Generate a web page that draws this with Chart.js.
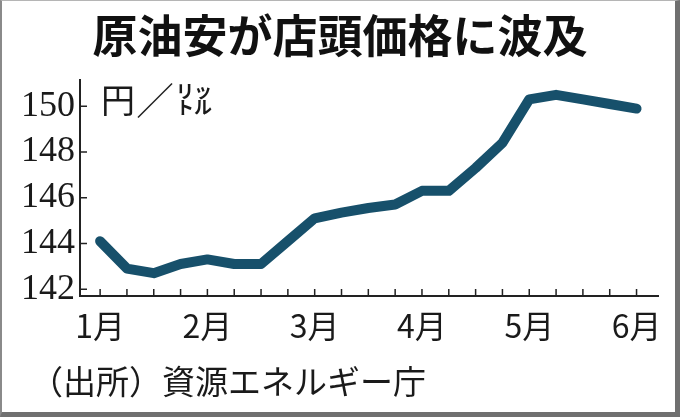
<!DOCTYPE html>
<html lang="ja">
<head>
<meta charset="utf-8">
<script src="https://cdn.jsdelivr.net/npm/chart.js@4.4.1/dist/chart.umd.min.js"></script>
<style>
  html, body { margin: 0; padding: 0; background: #fff; }
  #wrap { position: relative; width: 680px; height: 417px; overflow: hidden; background: #fff; }
  #chartBox { position: absolute; left: 0; top: 0; width: 680px; height: 417px; }
  .txt { position: absolute; color: #1a1a1a; white-space: nowrap; font-family: "Noto Sans CJK JP", sans-serif; }
  #title { left: 0; top: 10px; width: 680px; text-align: center; font-size: 45px; line-height: 48px; font-weight: 700; color: #111; }
  #unit { left: 101px; top: 80px; font-size: 34px; line-height: 38px; }
  #slash { left: 136px; top: 80px; font-size: 38px; line-height: 38px; font-weight: 300; }
  #unitSmall { left: 176px; top: 82px; font-size: 18px; line-height: 16px; font-weight: 700; }
  #source { left: 30px; top: 360px; font-size: 33px; line-height: 40px; }
  #frame { position: absolute; left: 0; top: 0; width: 680px; height: 417px; box-sizing: border-box;
    border-left: 2px solid #8a8a8a; border-top: 1px solid #b5b5b5;
    border-right: 5px solid #707070; border-bottom: 5px solid #707070; pointer-events: none; }
</style>
</head>
<body>
<div id="wrap">
  <div id="chartBox"><canvas id="chart"></canvas></div>
  <div class="txt" id="title">原油安が店頭価格に波及</div>
  <div class="txt" id="unit">円</div>
  <div class="txt" id="slash">／</div>
  <div class="txt" id="unitSmall">リッ<br>トル</div>
  <div class="txt" id="source">（出所）資源エネルギー庁</div>
  <div id="frame"></div>
</div>
<script>
// 月ラベル（4週ごと）
const months = ["1月", "2月", "3月", "4月", "5月", "6月"];
// 週ごとのレギュラーガソリン店頭価格（円/リットル）
const prices = [144.1, 142.9, 142.7, 143.1, 143.3, 143.1, 143.1, 144.1, 145.1, 145.35, 145.55,
                145.7, 146.3, 146.3, 147.3, 148.4, 150.3, 150.5, 150.3, 150.1, 149.9];
// 縦軸の目盛り
const yTicks = [142, 144, 146, 148, 150];

const weeksPerMonth = 4;
const ink = "#222";

// 目盛り線を内側に描く
const innerTicks = {
  id: "innerTicks",
  beforeDatasetsDraw(chart) {
    const ctx = chart.ctx;
    const x = chart.scales.x, y = chart.scales.y;
    ctx.save();
    ctx.strokeStyle = ink;
    ctx.lineWidth = 1.5;
    ctx.beginPath();
    x.ticks.forEach((t, i) => {
      const px = x.getPixelForTick(i);
      ctx.moveTo(px, x.top);
      ctx.lineTo(px, x.top - 7);
    });
    y.ticks.forEach((t, i) => {
      const py = y.getPixelForTick(i);
      ctx.moveTo(y.right, py);
      ctx.lineTo(y.right + 7, py);
    });
    ctx.stroke();
    ctx.restore();
  }
};

const config = {
  type: "line",
  data: {
    datasets: [{
      data: prices.map((v, i) => ({ x: i, y: v })),
      borderColor: "#17506b",
      borderWidth: 10,
      borderJoinStyle: "round",
      borderCapStyle: "round",
      pointRadius: 0,
      tension: 0,
      fill: false,
      clip: false
    }]
  },
  options: {
    responsive: true,
    maintainAspectRatio: false,
    animation: false,
    layout: { padding: { top: 80, right: 22, left: 0, bottom: 0 } },
    plugins: { legend: { display: false }, tooltip: { enabled: false } },
    scales: {
      x: {
        type: "linear",
        min: -0.75,
        max: 20.8,
        afterBuildTicks: (scale) => {
          scale.ticks = prices.map((_, i) => ({ value: i }));
        },
        afterFit: (scale) => { scale.height = 121; },
        grid: { display: true, drawOnChartArea: false, drawTicks: false },
        border: { display: true, color: ink, width: 2 },
        ticks: {
          autoSkip: false,
          maxRotation: 0,
          padding: 11,
          color: "#1a1a1a",
          font: { family: '"Liberation Sans Narrow", "Noto Sans CJK JP"', size: 32 },
          callback: (v) => (v % weeksPerMonth === 0 ? months[v / weeksPerMonth] : "")
        }
      },
      y: {
        min: 141.7,
        max: 151.15,
        afterBuildTicks: (scale) => {
          scale.ticks = yTicks.map((v) => ({ value: v }));
        },
        afterFit: (scale) => { scale.width = 80; },
        grid: { display: true, drawOnChartArea: false, drawTicks: false },
        border: { display: true, color: ink, width: 2 },
        ticks: {
          padding: 5,
          color: "#1a1a1a",
          font: { family: '"Liberation Sans Narrow"', size: 36 }
        }
      }
    }
  },
  plugins: [innerTicks]
};

const chart = new Chart(document.getElementById("chart").getContext("2d"), config);
</script>
</body>
</html>
